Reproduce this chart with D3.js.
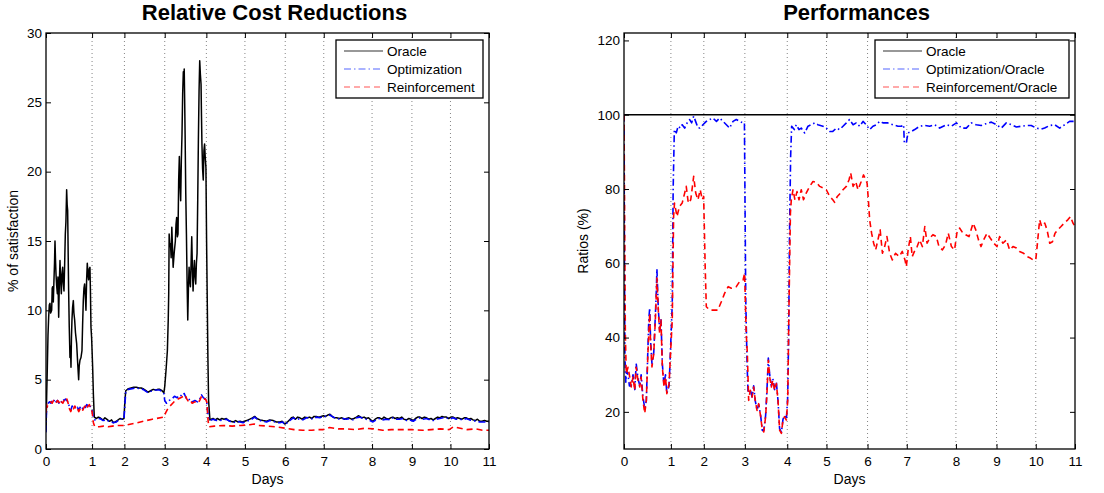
<!DOCTYPE html>
<html><head><meta charset="utf-8">
<script src="https://cdn.jsdelivr.net/npm/d3@7/dist/d3.min.js"></script>
<style>
body{margin:0;background:#fff;}
svg{display:block;font-family:"Liberation Sans",Arial,Helvetica,sans-serif;}
</style>
</head><body>
<svg id="c" width="1104" height="493"></svg>
<script>
// ---------- DATA ----------
// x = sample index (0..1000 across the 11 days, days have unequal numbers of samples)
const dayTickIndex = [0,104,177,268,362,449,540,627,736,826,913,1000];
const dayLabels = ["0","1","2","3","4","5","6","7","8","9","10","11"];

const leftTitle = "Relative Cost Reductions";
const rightTitle = "Performances";
const leftYTicks = [0,5,10,15,20,25,30];
const rightYTicks = [20,40,60,80,100,120];

// Left panel: % of satisfaction
const costOracle = [[0,1.35],[1.5,3.8],[3,5.9],[4.5,8.2],[6,9.5],[7.5,10.4],[9,10.5],[10.5,9.8],[12.8,10.0],[14,11.6],[15,11.7],[16.5,10.6],[18,12.2],[19.2,13.4],[20.3,15.0],[21.5,13.6],[22.6,12.6],[24,11.8],[25.6,11.2],[27,12.4],[28.6,9.5],[30,11.8],[31.6,13.6],[33,12.2],[34.6,11.2],[36,12.6],[37.6,13.1],[39,12.0],[40.6,11.4],[42,13.2],[43.6,15.5],[45,16.4],[46.6,18.7],[47.8,17.6],[48.9,17.2],[50,14.2],[51.1,11.4],[52.5,8.8],[54.1,6.6],[55.2,7.4],[56.4,5.9],[57.5,8.1],[58.6,9.3],[60,10.2],[61.7,10.7],[63,9.8],[64.7,9.3],[66.5,8.4],[69.2,7.6],[71.5,6.2],[73.7,5.0],[75,6.0],[76.7,6.4],[79,6.6],[81.2,7.1],[82.6,8.9],[84.2,10.7],[85.7,11.6],[87.2,11.9],[88.7,11.1],[90.2,10.0],[91.7,12.2],[93.2,13.4],[94.7,12.6],[96.2,12.2],[97.7,13.0],[99.2,13.1],[100.3,11.4],[101.5,8.8],[103,8.0],[105.3,5.9],[107,3.9],[109,2.3],[114,2.2],[118,2.3],[122,2.25],[126,2.15],[129,2.1],[133,2.25],[137,2.15],[141,2.05],[144,2.0],[148,2.1],[152,1.9],[156,1.95],[159,2.0],[163,2.1],[167,2.2],[172,2.15],[176,2.2],[178,3.4],[180,4.2],[186,4.35],[192,4.4],[198,4.45],[204,4.45],[210,4.4],[215,4.4],[219,4.35],[224,4.25],[228,4.15],[231,4.1],[236,4.2],[242,4.3],[248,4.25],[252,4.3],[257,4.3],[262,4.2],[266,4.05],[268,4.5],[271,5.7],[274,7.1],[276,9.4],[277,11.2],[278,15.5],[279.5,14.6],[281,14.8],[282.5,13.8],[284,16.0],[285.5,14.6],[287,13.1],[289.5,14.2],[292,15.0],[293.5,16.2],[295,16.7],[296.5,15.3],[298,15.5],[299.5,19.4],[301,21.1],[302.5,19.0],[304,17.9],[305.5,20.8],[307,22.7],[308.5,25.6],[310,27.2],[311,26.4],[312,27.4],[313,25.2],[314,22.7],[315.5,18.4],[317,15.5],[318.5,12.0],[320,9.3],[321.5,11.6],[323,13.1],[324.5,12.2],[326,11.7],[327.5,13.4],[329,15.3],[330.5,13.0],[332,11.4],[333.5,12.8],[335,13.6],[336.5,12.4],[338,11.9],[339.5,13.4],[341,14.1],[342.5,18.0],[344,22.3],[345.5,25.8],[347,28.0],[348.5,27.0],[350,26.3],[351,24.0],[352,22.0],[353.5,20.2],[355,19.4],[356.5,21.5],[358,22.0],[359.5,21.0],[361,20.3],[362.5,15.0],[364,10.7],[365.5,6.5],[367,3.5],[370,2.1],[373,2.15],[377,2.2],[382,2.1],[387,2.2],[392,2.1],[397,2.2],[402,2.15],[407,2.2],[412,2.05],[417,2.0],[423,1.95],[428,2.05],[433,1.95],[438,2.0],[443,1.95],[448,2.0],[453,2.05],[460,2.15],[466,2.25],[471,2.35],[476,2.2],[483,2.1],[490,2.05],[498,2.0],[505,2.1],[513,2.05],[520,1.95],[528,1.95],[533,2.0],[539,1.8],[545,1.95],[550,2.1],[554,2.25],[558,2.3],[563,2.15],[568,2.3],[573,2.25],[578,2.15],[584,2.3],[590,2.25],[595,2.3],[600,2.2],[605,2.35],[610,2.35],[616,2.3],[621,2.35],[626,2.4],[631,2.35],[636,2.45],[641,2.5],[646,2.35],[651,2.25],[656,2.25],[662,2.2],[668,2.25],[673,2.15],[678,2.2],[684,2.25],[690,2.15],[695,2.2],[701,2.3],[705,2.4],[708,2.35],[713,2.25],[718,2.3],[723,2.2],[728,2.25],[733,2.1],[738,2.0],[743,2.15],[748,2.25],[753,2.25],[758,2.15],[763,2.3],[768,2.2],[773,2.15],[778,2.25],[783,2.3],[788,2.2],[793,2.25],[798,2.2],[803,2.3],[808,2.15],[814,2.1],[819,2.2],[824,2.15],[829,2.05],[834,2.2],[839,2.3],[844,2.3],[849,2.2],[854,2.3],[859,2.25],[864,2.15],[869,2.2],[874,2.1],[879,2.2],[884,2.3],[889,2.25],[894,2.35],[899,2.3],[904,2.3],[909,2.2],[914,2.3],[919,2.3],[924,2.2],[929,2.25],[934,2.2],[939,2.15],[944,2.25],[949,2.25],[954,2.15],[959,2.2],[964,2.1],[969,2.05],[974,2.15],[979,2.0],[984,2.0],[990,2.05],[995,2.0],[1000,2.0]];

const costOptimization = [[0,1.2],[1,2.6],[2,3.1],[5,3.3],[8,3.4],[11,3.3],[14,3.5],[17,3.4],[20,3.6],[23,3.4],[26,3.5],[29,3.3],[32,3.5],[35,3.4],[38,3.6],[41,3.5],[44,3.6],[47,3.5],[50,3.4],[53,3.0],[56,2.8],[59,3.1],[62,3.0],[65,3.1],[68,2.9],[71,3.0],[74,2.8],[77,3.0],[80,3.1],[83,2.9],[86,3.1],[89,3.0],[92,3.2],[95,3.1],[98,3.2],[101,3.0],[104,2.8],[107,2.3],[110,2.1],[115,2.15],[122,2.2],[129,2.05],[137,2.1],[144,1.95],[152,1.9],[159,1.95],[167,2.15],[176,2.15],[180,4.1],[186,4.3],[204,4.4],[219,4.3],[231,4.05],[242,4.25],[257,4.25],[266,4.0],[268,3.5],[272,3.3],[278,3.5],[284,3.6],[290,3.8],[296,3.7],[302,3.9],[308,3.8],[312,4.0],[316,3.7],[320,3.5],[325,3.6],[330,3.4],[336,3.5],[342,3.4],[347,3.6],[351,3.9],[355,3.7],[360,3.6],[363,3.3],[366,2.4],[370,2.05],[377,2.15],[385,2.05],[392,2.05],[400,2.1],[407,2.15],[415,2.0],[423,1.9],[430,2.0],[438,1.95],[445,1.9],[453,2.0],[462,2.1],[471,2.3],[477,2.15],[483,2.05],[490,2.0],[498,1.95],[505,2.05],[513,2.0],[520,1.9],[528,1.9],[534,1.95],[539,1.75],[545,1.9],[550,2.05],[558,2.25],[565,2.1],[573,2.2],[580,2.1],[588,2.25],[595,2.25],[602,2.15],[610,2.3],[618,2.25],[626,2.35],[634,2.35],[641,2.45],[648,2.3],[656,2.2],[664,2.15],[671,2.2],[678,2.15],[686,2.2],[693,2.1],[701,2.25],[708,2.3],[716,2.2],[723,2.15],[731,2.05],[738,1.95],[745,2.1],[753,2.2],[760,2.1],[768,2.15],[776,2.1],[783,2.25],[791,2.15],[798,2.15],[806,2.2],[814,2.05],[821,2.1],[829,2.0],[836,2.15],[844,2.25],[851,2.15],[859,2.2],[866,2.1],[874,2.05],[881,2.15],[889,2.2],[896,2.25],[904,2.25],[911,2.15],[919,2.25],[926,2.15],[934,2.15],[941,2.1],[949,2.2],[956,2.1],[964,2.05],[971,2.0],[979,1.95],[990,1.95],[1000,1.95]];

const costReinforcement = [[0,2.6],[1,3.3],[2,3.0],[5,3.2],[8,3.3],[11,3.4],[14,3.3],[17,3.5],[20,3.4],[23,3.3],[26,3.5],[29,3.4],[32,3.2],[35,3.4],[38,3.3],[41,3.5],[44,3.4],[47,3.6],[50,3.3],[53,2.9],[56,2.7],[59,3.0],[62,2.9],[65,3.1],[68,2.8],[71,2.9],[74,2.7],[77,2.9],[80,3.0],[83,2.8],[86,3.0],[89,3.1],[92,2.9],[95,3.1],[98,3.2],[101,2.9],[104,2.7],[107,1.9],[110,1.6],[120,1.6],[130,1.65],[140,1.6],[150,1.65],[160,1.7],[170,1.7],[177,1.7],[200,1.85],[220,2.0],[240,2.15],[266,2.3],[270,2.6],[275,2.9],[280,3.1],[286,3.3],[292,3.5],[298,3.6],[304,3.7],[310,3.8],[314,3.9],[318,3.6],[322,3.4],[326,3.5],[330,3.3],[336,3.4],[342,3.3],[347,3.5],[351,3.8],[355,3.6],[360,3.6],[363,3.4],[366,2.0],[368,1.6],[380,1.65],[400,1.7],[420,1.65],[440,1.7],[460,1.75],[470,1.8],[480,1.7],[500,1.65],[520,1.6],[540,1.5],[560,1.4],[580,1.35],[600,1.35],[615,1.4],[626,1.4],[640,1.55],[660,1.45],[680,1.45],[700,1.4],[720,1.5],[740,1.45],[760,1.35],[780,1.4],[800,1.4],[826,1.4],[850,1.35],[870,1.4],[890,1.45],[910,1.4],[920,1.6],[935,1.5],[950,1.4],[970,1.45],[985,1.35],[1000,1.35]];

// Right panel: Ratios (%)
const ratioOracle = [[0,100],[1000,100]];

const ratioOptimization = [[0,100],[1,60],[2,35],[4,28],[6,31],[9,30],[12,27],[16,27],[20,30],[24,26],[27,33],[31,29],[35,27],[38,30],[42,24],[46,21],[49.5,23],[53,37],[55,45],[57,48],[59,39],[62,33],[66,36],[69.5,46],[71.5,52],[73,58.5],[76,48],[79,42],[82,45],[85,33],[88.7,27],[92,30],[95,25],[100,27],[103.5,38],[107,49],[109,80],[111.6,96],[116,95.1],[120,96.9],[125,96.4],[129,97.3],[134.5,96.4],[140,97.8],[145.6,98.7],[150,97.8],[154.5,99.6],[160,97.8],[164,96.5],[168,96.4],[175,97.3],[182.5,98.2],[190,98.7],[197,99.1],[205,98.2],[212,99.1],[219.5,98.2],[227,97.3],[234,96.4],[241.7,98.2],[249,98.7],[256.5,98.2],[264,97.8],[267,97.8],[268.3,77],[270,50],[272.7,34],[275,25],[280,26],[284,24],[287.5,27],[291,23],[295,20.5],[298.6,22],[303,19],[306.7,15],[310,15],[314,19],[317,26],[320,34.5],[323,30],[326.7,27],[330,29],[334,26],[337.8,28],[341.5,23],[345,15.5],[349,14.5],[352.5,18],[356,19],[360,18],[363,24],[365,40],[367,68.1],[369.5,88.8],[371.7,96.9],[377.7,96],[382,97.3],[388,96],[393,96.4],[400.6,95.1],[408,96.9],[415,97.3],[423,97.8],[430,97.3],[441,96.9],[448.6,96.4],[456,95.5],[463,95.5],[471,96.4],[478,96],[485.6,96.9],[493,97.8],[500,98.7],[508,97.3],[515,97.8],[522.5,96.9],[530,98.2],[537,97.3],[544.7,96],[552,96.9],[559.5,97.3],[567,98.2],[574,97.8],[585,97.8],[596.5,97.3],[607.5,96.9],[615,96.9],[620,97.3],[621.6,92.4],[626,92.4],[629.7,95.1],[637,95.5],[644.5,96],[655.6,96.9],[666.7,97.1],[677.7,96.9],[688.8,97.3],[700,96.4],[714.7,97.3],[725.8,96.9],[737,97.8],[748,96.4],[759,96.4],[770,97.8],[781,97.3],[792,97.1],[803,97.6],[814.5,98],[825.6,97.3],[836.7,96.4],[847.7,97.8],[858.8,97.3],[870,96.7],[881,96.9],[892,97.1],[903,97.1],[914,96.4],[925,96.1],[932.7,96.4],[944,97.1],[955,97.3],[966,96.4],[977,97.3],[988,98.2],[1000,98.2]];

const ratioReinforcement = [[0,100],[1,82],[1.5,70],[3,41],[5,30.3],[9,32],[12.6,29.4],[16,26.7],[20,29.4],[23.6,25.8],[27,32],[31,28.5],[35,26.7],[38,29.4],[42,23.1],[46,19.6],[49.5,23.1],[53,35.7],[57,46.5],[59,38.4],[62,32.1],[66,35.7],[69.5,44.7],[73,56],[76,47.4],[79,41.1],[82,44.7],[85,32.1],[88.7,26.7],[92,29.4],[95,24.9],[100,27.6],[103.5,36.6],[107,44.7],[110,72.6],[112,76.2],[117.5,72.6],[123,75.3],[129,76.2],[134.5,78.9],[138,80.7],[142.6,76.2],[148,77.1],[154.5,83.4],[159,78.9],[164,77.1],[169,79.8],[173.7,77.1],[176.6,78],[180,59.1],[182.5,48.3],[190,47.4],[208,47.4],[216,49.7],[223,51.9],[231,53.7],[238,53.3],[249,53.7],[256.5,55.1],[264,55.5],[267.5,57.3],[269,50.1],[271,41.1],[273.5,35.7],[276.4,23.1],[280,25.8],[284,24],[287.5,26.7],[291,23.1],[295,20.4],[298.6,22.2],[303,18.7],[306.7,15.1],[310,14.6],[314,18.7],[317,24.9],[320,33.9],[323,29.4],[326.7,26.7],[330,28.5],[334,25.8],[337.8,27.6],[341.5,23.1],[345,15.1],[349,14.2],[352.5,17.8],[356,18.7],[360,17.8],[363,23.1],[366,50.1],[369,73.5],[371,77.1],[374.7,79.8],[379,77.1],[383.6,79.3],[388,77.1],[393,79.8],[398,77.1],[404,78.9],[411.7,80.7],[419,82],[426.5,81.8],[434,80.7],[441,80.3],[448.6,79.8],[456,78],[463,77.1],[467,76.4],[473,78],[480,78.9],[485.6,79.8],[493,80.7],[499,82.5],[502.6,84.3],[508,80.7],[513.7,82],[519,79.8],[526,82],[531,83.8],[536,82.5],[539,81.6],[541.8,77.1],[544.7,71.7],[549,68.1],[553.6,65.4],[558,63.6],[563,66.3],[568,69],[573,62.7],[578,64.5],[583,67.2],[589,62.7],[595,60.9],[602,62.7],[610,61.8],[617,63.2],[623,60.9],[626,59.1],[630,63.6],[635,67.2],[639,61.8],[644,63.2],[650,64.5],[655.6,66.3],[661.5,64.5],[667,69.9],[672,65.4],[678,66.8],[685,67.7],[692.5,67.2],[698.4,64.5],[706,63.6],[713,65],[719,68.1],[726,64.5],[733,63.6],[738,68.1],[744,69.5],[751.6,68.1],[757.6,67.7],[765,67.2],[774,70.8],[780,69],[786,66.3],[791.6,64.5],[797.5,66.3],[805,68.1],[812,66.8],[820,65.4],[827,64.5],[833,67.2],[840,65.4],[848,66.3],[855,63.6],[862.5,64.5],[870,64.1],[877,63.2],[886,62.7],[893.6,61.8],[901,61.4],[907,60.9],[913,60.9],[916,64.5],[921.6,71.7],[926,69.9],[933,70.8],[938,69],[944,65.4],[950,65.8],[955.7,68.1],[961.6,69],[969,69.9],[976,70.8],[984,71.7],[990,72.6],[995.6,70.8],[1000,69.9]];

const leftLegend = ["Oracle","Optimization","Reinforcement"];
const rightLegend = ["Oracle","Optimization/Oracle","Reinforcement/Oracle"];

// ---------- DRAW ----------
const svg = d3.select("#c");
const styles = [
  {color:"#000000", dash:null, lcolor:"#333"},
  {color:"#0000ff", dash:"7,3,1.5,3", lcolor:"#5566ff"},
  {color:"#ff0000", dash:"6,4", lcolor:"#ff5555"}
];

function panel(cfg){
  const g = svg.append("g");
  const x = d3.scaleLinear().domain([0,1000]).range([cfg.x0,cfg.x1]);
  const y = d3.scaleLinear().domain(cfg.yDomain).range([cfg.y1,cfg.y0]);

  g.append("rect").attr("x",cfg.x0).attr("y",cfg.y0).attr("width",cfg.x1-cfg.x0).attr("height",cfg.y1-cfg.y0).attr("fill","#fff");

  // dotted vertical grid
  g.append("g").selectAll("line").data(dayTickIndex.slice(1,-1)).join("line")
    .attr("x1",d=>x(d)).attr("x2",d=>x(d)).attr("y1",cfg.y0).attr("y2",cfg.y1)
    .attr("stroke","#777").attr("stroke-width",0.9).attr("stroke-dasharray","1,3");

  // data lines
  const line = d3.line().x(d=>x(d[0])).y(d=>y(d[1]));
  const clipId = "clip"+cfg.id;
  g.append("clipPath").attr("id",clipId).append("rect")
    .attr("x",cfg.x0).attr("y",cfg.y0).attr("width",cfg.x1-cfg.x0).attr("height",cfg.y1-cfg.y0);
  const lg = g.append("g").attr("clip-path",`url(#${clipId})`);
  cfg.series.forEach((s,i)=>{
    lg.append("path").datum(s).attr("d",line).attr("fill","none")
      .attr("stroke",styles[i].color).attr("stroke-width",i===0?1.5:1.6)
      .attr("stroke-linejoin","round")
      .attr("stroke-dasharray",styles[i].dash);
  });

  // axes (MATLAB style, inward ticks on all sides)
  const fmt = (d)=>dayLabels[dayTickIndex.indexOf(d)];
  const axB = g.append("g").attr("transform",`translate(0,${cfg.y1})`)
    .call(d3.axisBottom(x).tickValues(dayTickIndex).tickFormat(fmt).tickSizeInner(-5).tickSizeOuter(0).tickPadding(7));
  const axT = g.append("g").attr("transform",`translate(0,${cfg.y0})`)
    .call(d3.axisTop(x).tickValues(dayTickIndex).tickFormat("").tickSizeInner(-5).tickSizeOuter(0));
  const axL = g.append("g").attr("transform",`translate(${cfg.x0},0)`)
    .call(d3.axisLeft(y).tickValues(cfg.yTicks).tickFormat(d3.format("d")).tickSizeInner(-5).tickSizeOuter(0).tickPadding(4));
  const axR = g.append("g").attr("transform",`translate(${cfg.x1},0)`)
    .call(d3.axisRight(y).tickValues(cfg.yTicks).tickFormat("").tickSizeInner(-5).tickSizeOuter(0));
  [axB,axT,axL,axR].forEach(a=>{
    a.select(".domain").remove();
    a.selectAll("line").attr("stroke","#000");
    a.selectAll("text").attr("font-size",13.5).attr("fill","#000").attr("font-family","Liberation Sans, Arial, sans-serif");
  });

  // frame
  g.append("rect").attr("x",cfg.x0).attr("y",cfg.y0).attr("width",cfg.x1-cfg.x0).attr("height",cfg.y1-cfg.y0)
    .attr("fill","none").attr("stroke","#000").attr("stroke-width",1.3);

  // title & labels
  g.append("text").attr("x",(cfg.x0+cfg.x1)/2+7).attr("y",20).attr("text-anchor","middle")
    .attr("font-size",22).attr("font-weight","bold").text(cfg.title);
  g.append("text").attr("x",(cfg.x0+cfg.x1)/2).attr("y",484).attr("text-anchor","middle")
    .attr("font-size",14).text("Days");
  g.append("text").attr("transform",`translate(${cfg.ylabX},241) rotate(-90)`).attr("text-anchor","middle")
    .attr("font-size",14).text(cfg.ylabel);

  // legend
  const L = cfg.legend;
  const leg = g.append("g");
  leg.append("rect").attr("x",L.x).attr("y",40).attr("width",L.w).attr("height",58)
    .attr("fill","#fff").attr("stroke","#000").attr("stroke-width",1.3);
  cfg.legendLabels.forEach((t,i)=>{
    const yy = 51 + i*18;
    leg.append("line").attr("x1",L.x+8).attr("x2",L.x+47).attr("y1",yy).attr("y2",yy)
      .attr("stroke",styles[i].lcolor).attr("stroke-width",1.2).attr("stroke-dasharray",styles[i].dash);
    leg.append("text").attr("x",L.x+51).attr("y",yy).attr("dy","0.35em").attr("font-size",13.5).text(t);
  });
}

panel({id:"L", x0:46, x1:489, y0:33, y1:449, yDomain:[0,30], yTicks:leftYTicks,
  series:[costOracle,costOptimization,costReinforcement], title:leftTitle,
  ylabel:"% of satisfaction", ylabX:18, legend:{x:336,w:147}, legendLabels:leftLegend});
panel({id:"R", x0:624, x1:1075, y0:33, y1:449, yDomain:[10,122], yTicks:rightYTicks,
  series:[ratioOracle,ratioOptimization,ratioReinforcement], title:rightTitle,
  ylabel:"Ratios (%)", ylabX:588, legend:{x:875,w:194}, legendLabels:rightLegend});
</script>
</body></html>
